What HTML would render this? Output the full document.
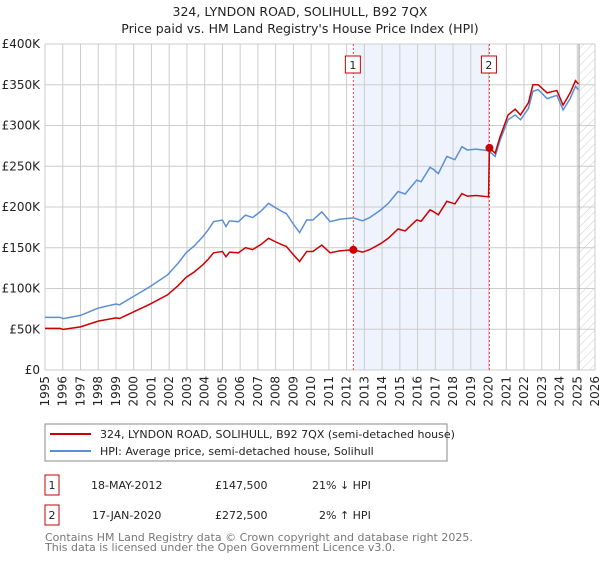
<!DOCTYPE html>
<html><head><meta charset="utf-8"><style>
body{margin:0;background:#fff;font-family:"Liberation Sans","DejaVu Sans",sans-serif}
svg text{font-family:"DejaVu Sans","Liberation Sans",sans-serif}
</style></head><body>
<svg id="chart" width="600" height="560" viewBox="0 0 600 560">
<defs><pattern id="hatch" width="6" height="6" patternUnits="userSpaceOnUse" patternTransform="rotate(45)"><line x1="0" y1="0" x2="0" y2="6" stroke="#ccc" stroke-width="1"/></pattern></defs>
<text x="300" y="16" text-anchor="middle" font-size="12.5" fill="#222">324, LYNDON ROAD, SOLIHULL, B92 7QX</text>
<text x="300" y="33" text-anchor="middle" font-size="12.5" fill="#222">Price paid vs. HM Land Registry's House Price Index (HPI)</text>
<g id="grid"></g><g id="marks"></g><g id="axes"></g>
<rect x="45" y="424" width="402" height="37" fill="#fff" stroke="#888"/>
<line x1="50" y1="434" x2="91" y2="434" stroke="#cc0000" stroke-width="2"/>
<text x="100" y="438" font-size="11" fill="#222">324, LYNDON ROAD, SOLIHULL, B92 7QX (semi-detached house)</text>
<line x1="50" y1="451" x2="91" y2="451" stroke="#5b8fd4" stroke-width="2"/>
<text x="100" y="455" font-size="11" fill="#222">HPI: Average price, semi-detached house, Solihull</text>
<g font-size="11" fill="#222">
<rect x="45" y="475" width="14" height="20" fill="none" stroke="#cc0000"/><text x="52" y="489" text-anchor="middle">1</text>
<text x="91" y="489">18-MAY-2012</text><text x="215" y="489">£147,500</text><text x="312" y="489">21% ↓ HPI</text>
<rect x="45" y="505" width="14" height="20" fill="none" stroke="#cc0000"/><text x="52" y="519" text-anchor="middle">2</text>
<text x="92" y="519">17-JAN-2020</text><text x="215" y="519">£272,500</text><text x="319" y="519">2% ↑ HPI</text>
</g>
<text x="45" y="541" font-size="11" fill="#777">Contains HM Land Registry data © Crown copyright and database right 2025.</text>
<text x="45" y="551" font-size="11" fill="#777">This data is licensed under the Open Government Licence v3.0.</text>
</svg>
<script>
const hpiYears=[1995.0,1995.85,1996.03,1997.0,1998.0,1999.0,1999.2,1999.97,2000.9,2001.9,2002.5,2002.96,2003.4,2003.9,2004.2,2004.5,2005.0,2005.2,2005.4,2005.9,2006.3,2006.7,2007.2,2007.6,2008.0,2008.4,2008.6,2009.0,2009.35,2009.75,2010.1,2010.6,2011.07,2011.6,2012.38,2012.9,2013.3,2013.9,2014.35,2014.9,2015.3,2015.95,2016.2,2016.7,2016.9,2017.17,2017.65,2018.1,2018.5,2018.8,2019.3,2020.0,2020.37,2020.65,2021.1,2021.5,2021.8,2022.25,2022.5,2022.8,2023.3,2023.85,2024.2,2024.6,2024.9,2025.06];
const hpiValues=[64.6,64.6,63,67,76,81,80,90,102,116.6,131,144,152,163.6,172,182,184,176,183,182,190,187,195.5,204.5,199,194,192,179,168.5,184,184,194,182,185,186.7,183,187,196,204.5,219,216,233,231,248.7,246,241,262,258,274,270,271,269,262,282,307,313,307,321,342,344,333,337,319,333,348,344];
const priceYears=[1995.0,1995.85,1996.03,1997.0,1998.0,1999.0,1999.2,1999.97,2000.9,2001.9,2002.5,2002.96,2003.4,2003.9,2004.2,2004.5,2005.0,2005.2,2005.4,2005.9,2006.3,2006.7,2007.2,2007.6,2008.0,2008.4,2008.6,2009.0,2009.35,2009.75,2010.1,2010.6,2011.07,2011.6,2012.38,2012.9,2013.3,2013.9,2014.35,2014.9,2015.3,2015.95,2016.2,2016.7,2016.9,2017.17,2017.65,2018.1,2018.5,2018.8,2019.3,2020.0,2020.05,2020.37,2020.65,2021.1,2021.5,2021.8,2022.25,2022.5,2022.8,2023.3,2023.85,2024.2,2024.6,2024.9,2025.06];
const priceValues=[51,51,49.8,52.9,60,64,63.2,71.1,80.6,92.1,103.5,113.8,120.1,129.2,135.9,143.8,145.4,139,144.6,143.8,150.1,147.7,154.4,161.6,157.2,153.3,151.7,141.4,133.1,145.4,145.4,153.3,143.8,146.2,147.5,144.6,147.7,154.8,161.6,173,170.6,184.1,182.5,196.5,194.3,190.4,207,203.8,216.5,213.3,214.1,212.5,272.5,266,286,313,320,313,328,350,350,340,343,325,340,355,351];
const saleYears=[2012.38,2020.05];
const saleValues=[147.5,272.5];
const saleLabels=["1","2"];
const yTicks=[0,50,100,150,200,250,300,350,400];
const yTickLabels=["£0","£50K","£100K","£150K","£200K","£250K","£300K","£350K","£400K"];
const xTicks=[1995,1996,1997,1998,1999,2000,2001,2002,2003,2004,2005,2006,2007,2008,2009,2010,2011,2012,2013,2014,2015,2016,2017,2018,2019,2020,2021,2022,2023,2024,2025,2026];
const forecastStart=2025.1;

const X0=45,X1=595,Y0=370,Y1=44;
const xs=y=>X0+(y-1995)/(2026-1995)*(X1-X0);
const ys=v=>Y0-v/400*(Y0-Y1);
const NS="http://www.w3.org/2000/svg";
function mk(tag,attrs,parent){const e=document.createElementNS(NS,tag);for(const k in attrs)e.setAttribute(k,attrs[k]);parent.appendChild(e);return e;}
const grid=document.getElementById('grid'),marks=document.getElementById('marks'),axes=document.getElementById('axes');
// shaded region between sales
const shade=mk('rect',{x:xs(saleYears[0]),y:Y1,width:xs(saleYears[1])-xs(saleYears[0]),height:Y0-Y1,fill:'#eef3fd'},grid);


const hatch=mk('rect',{x:xs(forecastStart),y:Y1,width:X1-xs(forecastStart),height:Y0-Y1,fill:'url(#hatch)'},grid);


xTicks.forEach(t=>{
  const l=mk('line',{x1:xs(t),x2:xs(t),y1:Y1,y2:Y0,stroke:'#cccccc','stroke-width':1},grid);
  
  
  const tx=mk('text',{x:0,y:0,'font-size':12,fill:'#222','text-anchor':'end',transform:`translate(${xs(t)+4},${Y0+6}) rotate(-90)`},axes);
  tx.textContent=t;
  
  
});
yTicks.forEach((t,i)=>{
  const l=mk('line',{x1:X0,x2:X1,y1:ys(t),y2:ys(t),stroke:'#cccccc','stroke-width':1},grid);
  
  
  const tx=mk('text',{x:X0-5,y:ys(t)+4,'font-size':12,fill:'#222','text-anchor':'end'},axes);
  tx.textContent=yTickLabels[i];
  
  
});
const fl=mk('line',{x1:xs(forecastStart),x2:xs(forecastStart),y1:Y1,y2:Y0,stroke:'#999','stroke-width':1},grid);


saleYears.forEach((y,i)=>{
  const l=mk('line',{x1:xs(y),x2:xs(y),y1:Y1,y2:Y0,stroke:'#ee4444','stroke-width':1,'stroke-dasharray':'2,2'},marks);
  
  
  const b=mk('rect',{x:xs(y)-8,y:56,width:15,height:17,fill:'#fff',stroke:'#cc0000'},marks);
  
  
  const t=mk('text',{x:xs(y)-0.5,y:69,'font-size':11,fill:'#222','text-anchor':'middle'},marks);
  t.textContent=saleLabels[i];
  
  
});
const hp=mk('polyline',{points:hpiYears.map((y,i)=>xs(y)+','+ys(hpiValues[i])).join(' '),fill:'none',stroke:'#5b8fd4','stroke-width':1.5},marks);


const pp=mk('polyline',{points:priceYears.map((y,i)=>xs(y)+','+ys(priceValues[i])).join(' '),fill:'none',stroke:'#cc0000','stroke-width':1.5},marks);


saleYears.forEach((y,i)=>{
  const c=mk('circle',{cx:xs(y),cy:ys(saleValues[i]),r:4,fill:'#cc0000'},marks);
  
  
});
</script>
</body></html>
